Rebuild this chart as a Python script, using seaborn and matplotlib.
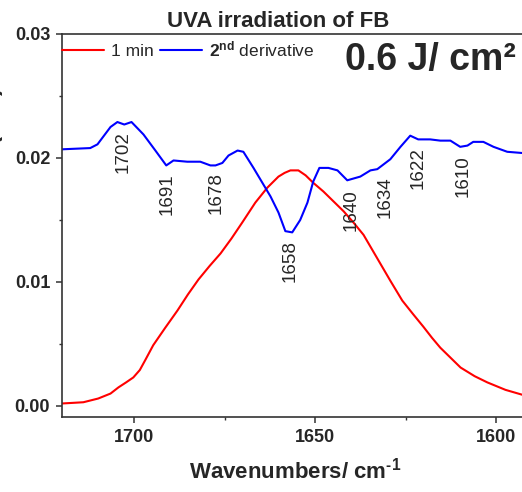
import numpy as np
import pandas as pd
import matplotlib
matplotlib.use("Agg")
import matplotlib.pyplot as plt
from matplotlib.ticker import MultipleLocator, FormatStrFormatter
import seaborn as sns

# Absorbance spectrum after 1 min UVA exposure (amide I region)
abs_wn = [1720, 1717, 1714.1, 1710, 1706.6, 1704.4, 1702.3, 1700.3, 1698.5, 1697.0,
          1694.8, 1691.5, 1688.1, 1685.2, 1682.3, 1679.2, 1676.2, 1673.2, 1670.2,
          1666.6, 1663.3, 1660.2, 1658.5, 1656.9, 1654.7, 1652.7, 1650.6, 1647.8,
          1645.0, 1642.2, 1639.5, 1636.7, 1634.1, 1631.5, 1629.3, 1626.0, 1623.0,
          1620.2, 1617.8, 1615.5, 1612.7, 1609.9, 1606.0, 1602.5, 1597.5, 1592.8,
          1590]
abs_val = [0.0002, 0.00025, 0.0003, 0.0006, 0.0010, 0.0015, 0.0019, 0.0023, 0.0029,
           0.0037, 0.0049, 0.0063, 0.0077, 0.0090, 0.0102, 0.0113, 0.0123, 0.0135,
           0.0148, 0.0164, 0.0176, 0.0185, 0.0188, 0.0190, 0.0190, 0.0186, 0.0180,
           0.0173, 0.0165, 0.0157, 0.0148, 0.0138, 0.0125, 0.0112, 0.0101, 0.0085,
           0.0074, 0.0064, 0.0055, 0.0047, 0.0039, 0.0031, 0.0024, 0.0019, 0.0013,
           0.0009, 0.0007]

# Second derivative (scaled and offset for display)
der_wn = [1720, 1712.2, 1710.2, 1706.6, 1704.7, 1702.8, 1700.8, 1697.5, 1694.2,
          1691.2, 1689.2, 1685.4, 1681.8, 1679.0, 1677.6, 1675.7, 1674.0, 1671.5,
          1669.9, 1667.1, 1662.4, 1660.2, 1658.3, 1656.4, 1654.2, 1652.2, 1650.6,
          1648.9, 1646.4, 1643.9, 1641.2, 1637.6, 1634.8, 1632.9, 1629.3, 1626.5,
          1623.8, 1621.6, 1618.3, 1615.5, 1612.7, 1610.0, 1608.0, 1606.4, 1603.6,
          1600.8, 1597.0, 1592.8, 1590]
der_val = [0.0207, 0.0208, 0.0211, 0.0225, 0.0229, 0.0227, 0.0229, 0.0219, 0.0206,
           0.0194, 0.0198, 0.0197, 0.0197, 0.0194, 0.0194, 0.0196, 0.0202, 0.0206,
           0.0205, 0.0192, 0.0169, 0.0156, 0.0141, 0.0140, 0.0150, 0.0164, 0.0181,
           0.0192, 0.0192, 0.0190, 0.0182, 0.0185, 0.0190, 0.0191, 0.0199, 0.0209,
           0.0218, 0.0215, 0.0215, 0.0214, 0.0214, 0.0209, 0.0210, 0.0213, 0.0213,
           0.0209, 0.0205, 0.0204, 0.0203]

# Band assignments: label, wavenumber position, height of the label
band_labels = ["1702", "1691", "1678", "1658", "1640", "1634", "1622", "1610"]
band_x = [1703.0, 1690.9, 1677.3, 1656.9, 1640.1, 1630.7, 1621.6, 1609.1]
band_y = [0.0205, 0.0171, 0.0172, 0.0117, 0.0158, 0.0168, 0.0192, 0.0185]

sns.set_style("ticks")
plt.rcParams["font.family"] = ["Liberation Sans", "DejaVu Sans"]
plt.rcParams["mathtext.fontset"] = "custom"
plt.rcParams["mathtext.rm"] = "Liberation Sans:bold"
plt.rcParams["mathtext.bf"] = "Liberation Sans:bold"
plt.rcParams["mathtext.it"] = "Liberation Sans:italic"

W, H = 522, 492
fig = plt.figure(figsize=(W / 100, H / 100), dpi=100)
ax_left, ax_right = 62, 532.6
ax_top, ax_bottom = 34, 417
ax = fig.add_axes([ax_left / W, 1 - ax_bottom / H,
                   (ax_right - ax_left) / W, (ax_bottom - ax_top) / H])

df_abs = pd.DataFrame({"wn": abs_wn, "val": abs_val})
df_der = pd.DataFrame({"wn": der_wn, "val": der_val})
sns.lineplot(data=df_abs, x="wn", y="val", color="#ff0000", lw=1.5, ax=ax,
             label="1 min")
sns.lineplot(data=df_der, x="wn", y="val", color="#0000ff", lw=1.5, ax=ax,
             label=r"$\mathbf{2^{nd}}$ derivative")

ax.set_xlim(1720, 1590)
ax.set_ylim(-0.00089, 0.03)

ax.xaxis.set_major_locator(MultipleLocator(50))
ax.xaxis.set_minor_locator(MultipleLocator(25))
ax.yaxis.set_major_locator(MultipleLocator(0.01))
ax.yaxis.set_minor_locator(MultipleLocator(0.005))
ax.yaxis.set_major_formatter(FormatStrFormatter("%.2f"))
ax.xaxis.set_major_formatter(FormatStrFormatter("%d"))

for s in ["left", "bottom", "top", "right"]:
    ax.spines[s].set_color("#333333")
    ax.spines[s].set_linewidth(1.2)

ax.tick_params(which="major", direction="out", length=4, width=1.1,
               color="#333333", labelsize=13, pad=4.5)
ax.tick_params(which="minor", direction="out", length=2.5, width=1.0,
               color="#333333")
ax.tick_params(top=False, right=False, which="both")
for lbl in ax.get_xticklabels() + ax.get_yticklabels():
    lbl.set_fontweight("bold")

ax.set_xlabel(r"Wavenumbers/ cm$^{\text{-1}}$", fontsize=16, fontweight="bold")
ax.xaxis.set_label_coords(0.495, -0.107)
ax.set_ylabel("")

# y-axis title sits mostly beyond the left edge of the canvas
fig.text(3 / W, 1 - 187 / H, "Absorbance (a.u.)", rotation=90, ha="right",
         va="center", fontsize=17, fontweight="bold")

ax.text(0.459, (ax_bottom - 27) / (ax_bottom - ax_top), "UVA irradiation of FB",
        transform=ax.transAxes, ha="center", va="baseline",
        fontsize=16, fontweight="bold")

ax.text(0.601, (ax_bottom - 70) / (ax_bottom - ax_top),
        "0.6 J/ cm²", transform=ax.transAxes,
        ha="left", va="baseline", fontsize=27, fontweight="bold")

for lab, bx, by in zip(band_labels, band_x, band_y):
    ax.text(bx, by, lab, rotation=90, ha="center", va="center", fontsize=13.5)

leg = ax.legend(loc="center left", bbox_to_anchor=(0, (ax_bottom - 49) / (ax_bottom - ax_top)),
                ncol=2, frameon=False, fontsize=12.5, borderpad=0, borderaxespad=0,
                handlelength=2.4, handletextpad=0.4, columnspacing=0.4)

fig.savefig("out.png", dpi=100)
